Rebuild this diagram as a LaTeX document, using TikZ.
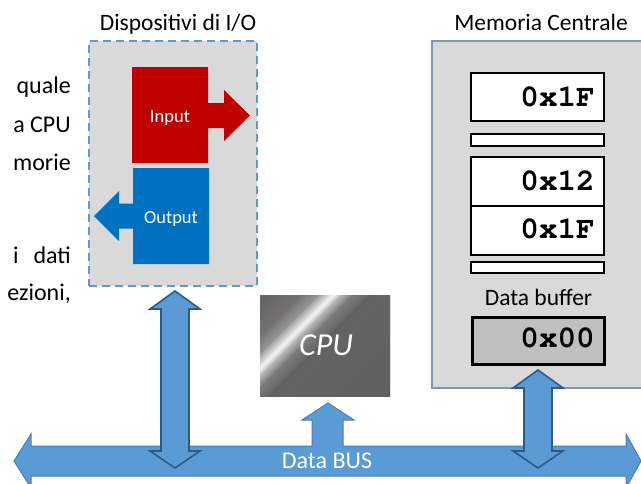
\documentclass[tikz,border=0pt]{standalone}
\usepackage[T1]{fontenc}
\usepackage{fontspec}
\setmainfont{Carlito}
\usetikzlibrary{calc}

\definecolor{panelgray}{HTML}{D9D9D9}
\definecolor{dashblue}{HTML}{5B9BD5}
\definecolor{inred}{HTML}{C00000}
\definecolor{outblue}{HTML}{0070C0}
\definecolor{busfill}{HTML}{5B9BD5}
\definecolor{busline}{HTML}{4A7DB3}
\definecolor{linkline}{HTML}{2E5A88}
\definecolor{memline}{HTML}{8497B0}
\definecolor{bufgray}{HTML}{BFBFBF}
\definecolor{cpuA}{HTML}{5E5B5B}
\definecolor{cpuB}{HTML}{6E6B6B}
\definecolor{cpuC}{HTML}{8E8D8D}
\definecolor{cpuD}{HTML}{CDCDCD}
\definecolor{cpuE}{HTML}{F5F5F5}
\definecolor{cpuF}{HTML}{B3B3B3}
\definecolor{cpuG}{HTML}{767676}
\definecolor{cpuH}{HTML}{5C5C5C}
\definecolor{cpuI}{HTML}{595959}

% bold Courier for the memory words
\newcommand\hexfont{\fontencoding{T1}\fontfamily{pcr}\fontseries{b}\fontsize{31}{33}\selectfont}

\tikzset{
  boxbase/.style={inner sep=0pt, outer sep=0pt, anchor=north west},
  iopanel/.style={boxbase, fill=panelgray, draw=dashblue, line width=1.8pt, dash pattern=on 8pt off 5pt},
  mempanel/.style={boxbase, fill=panelgray, draw=memline, line width=1.3pt},
  cell/.style={boxbase, fill=white, draw=black, line width=1.1pt},
  bufcell/.style={boxbase, fill=bufgray, draw=black, line width=3pt},
  cpubox/.style={boxbase},
  bodytxt/.style={inner sep=0pt, anchor=base east, font=\fontsize{24}{28}\selectfont},
  headtxt/.style={inner sep=0pt, anchor=base, font=\fontsize{23.5}{27}\selectfont},
  hextxt/.style={inner sep=0pt, anchor=base east, font=\hexfont},
  blocktxt/.style={inner sep=0pt, anchor=base, text=white, font=\fontsize{18.5}{21}\selectfont},
  busarrow/.style={fill=busfill, draw=busline, line width=1pt, line join=miter},
  linkarrow/.style={fill=busfill, draw=linkline, line width=1.6pt, line join=miter},
}

% vertical double block arrow: centre x, upper tip y, lower tip y
\newcommand\linkdoublearrow[3]{%
  \draw[linkarrow] (#1,#2) -- ++(25,18) -- ++(-11,0) -- (#1+14,#3-17) -- ++(11,0)
    -- (#1,#3) -- ++(-25,-17) -- ++(11,0) -- (#1-14,#2+18) -- ++(-11,0) -- cycle;}

\begin{document}
\begin{tikzpicture}[x=1pt,y=-1pt]
\useasboundingbox (0,0) rectangle (641,483);
\fill[white] (0,0) rectangle (641,483);

% fragments of the paragraph on the left
\node[bodytxt] (p1) at (71,93) {quale};
\node[bodytxt] (p2) at (71,132) {a CPU};
\node[bodytxt] (p3) at (71,170) {morie};
\node[bodytxt] (p4) at (71,263) {i\hspace{15pt}dati};
\node[bodytxt] (p5) at (71,300) {ezioni,};

% I/O devices
\node[iopanel, minimum width=168pt, minimum height=245pt] (io) at (89,41) {};
\node[headtxt] (iohead) at (178,30) {Dispositivi di I/O};
\draw[fill=inred, draw=none] (132,67) -- (208,67) -- (208,103) -- (224,103) -- (224,90)
  -- (250,115.5) -- (224,141) -- (224,128) -- (208,128) -- (208,163) -- (132,163) -- cycle;
\node[blocktxt] (intxt) at (170,122) {Input};
\draw[fill=outblue, draw=none] (133,168) -- (209,168) -- (209,264) -- (133,264) -- (133,228.5)
  -- (119,228.5) -- (119,241) -- (94,216) -- (119,191) -- (119,203.5) -- (133,203.5) -- cycle;
\node[blocktxt] (outtxt) at (171,223) {Output};

% main memory
\node[mempanel, minimum width=230pt, minimum height=347pt] (mem) at (432,41) {};
\node[headtxt] (memhead) at (541,30) {Memoria Centrale};
\node[cell, minimum width=133pt, minimum height=48pt] (c1) at (471,73) {};
\node[cell, minimum width=133pt, minimum height=12pt] (s1) at (471,134) {};
\node[cell, minimum width=133pt, minimum height=49pt] (c2) at (471,157) {};
\node[cell, minimum width=133pt, minimum height=49pt] (c3) at (471,206) {};
\node[cell, minimum width=133pt, minimum height=11pt] (s2) at (471,262) {};
\node[hextxt] (h1) at (595,106) {0x1F};
\node[hextxt] (h2) at (595,190) {0x12};
\node[hextxt] (h3) at (595,238) {0x1F};
\node[headtxt] (bufhead) at (538.5,305) {Data buffer};
\node[bufcell, minimum width=132pt, minimum height=47pt] (buf) at (472.5,317.5) {};
\node[hextxt] (h4) at (595,347) {0x00};

% CPU with a diagonal highlight
\node[cpubox, minimum width=130pt, minimum height=101pt] (cpu) at (260,295) {};
\begin{scope}
  \clip (cpu.north west) rectangle (cpu.south east);
  \foreach \sa/\sb/\ca/\cb in {555/595/cpuA/cpuB, 595/612/cpuB/cpuC, 612/622/cpuC/cpuD,
      622/629/cpuD/cpuE, 629/636/cpuE/cpuF, 636/648/cpuF/cpuG, 648/665/cpuG/cpuH,
      665/790/cpuH/cpuI}{
    \foreach \s in {\sa,...,\sb}{
      \pgfmathsetmacro\p{100*(\s-\sa)/(\sb-\sa)}
      \colorlet{stripe}{\cb!\p!\ca}
      \fill[stripe] (\s-250,250) -- (\s+1.4-250,250) -- (\s+1.4-450,450) -- (\s-450,450) -- cycle;
    }
  }
\end{scope}
\node[inner sep=0pt, anchor=base, text=white, font=\fontsize{32}{35}\selectfont\itshape] (cputxt) at (326,355) {CPU};

% data bus, joined with the arrow towards the CPU
\draw[busarrow] (14,461) -- (31,434) -- (31,446) -- (312,446) -- (312,420) -- (302,420)
  -- (328,403) -- (354,420) -- (343,420) -- (343,446) -- (626,446) -- (626,434)
  -- (641,461) -- (626,488) -- (626,476) -- (31,476) -- (31,488) -- cycle;
\node[blocktxt, font=\fontsize{24}{27}\selectfont] (bustxt) at (327,468) {Data BUS};

% links between the bus and the units
\linkdoublearrow{175}{291}{468}
\linkdoublearrow{538}{370}{468}
\end{tikzpicture}
\end{document}
